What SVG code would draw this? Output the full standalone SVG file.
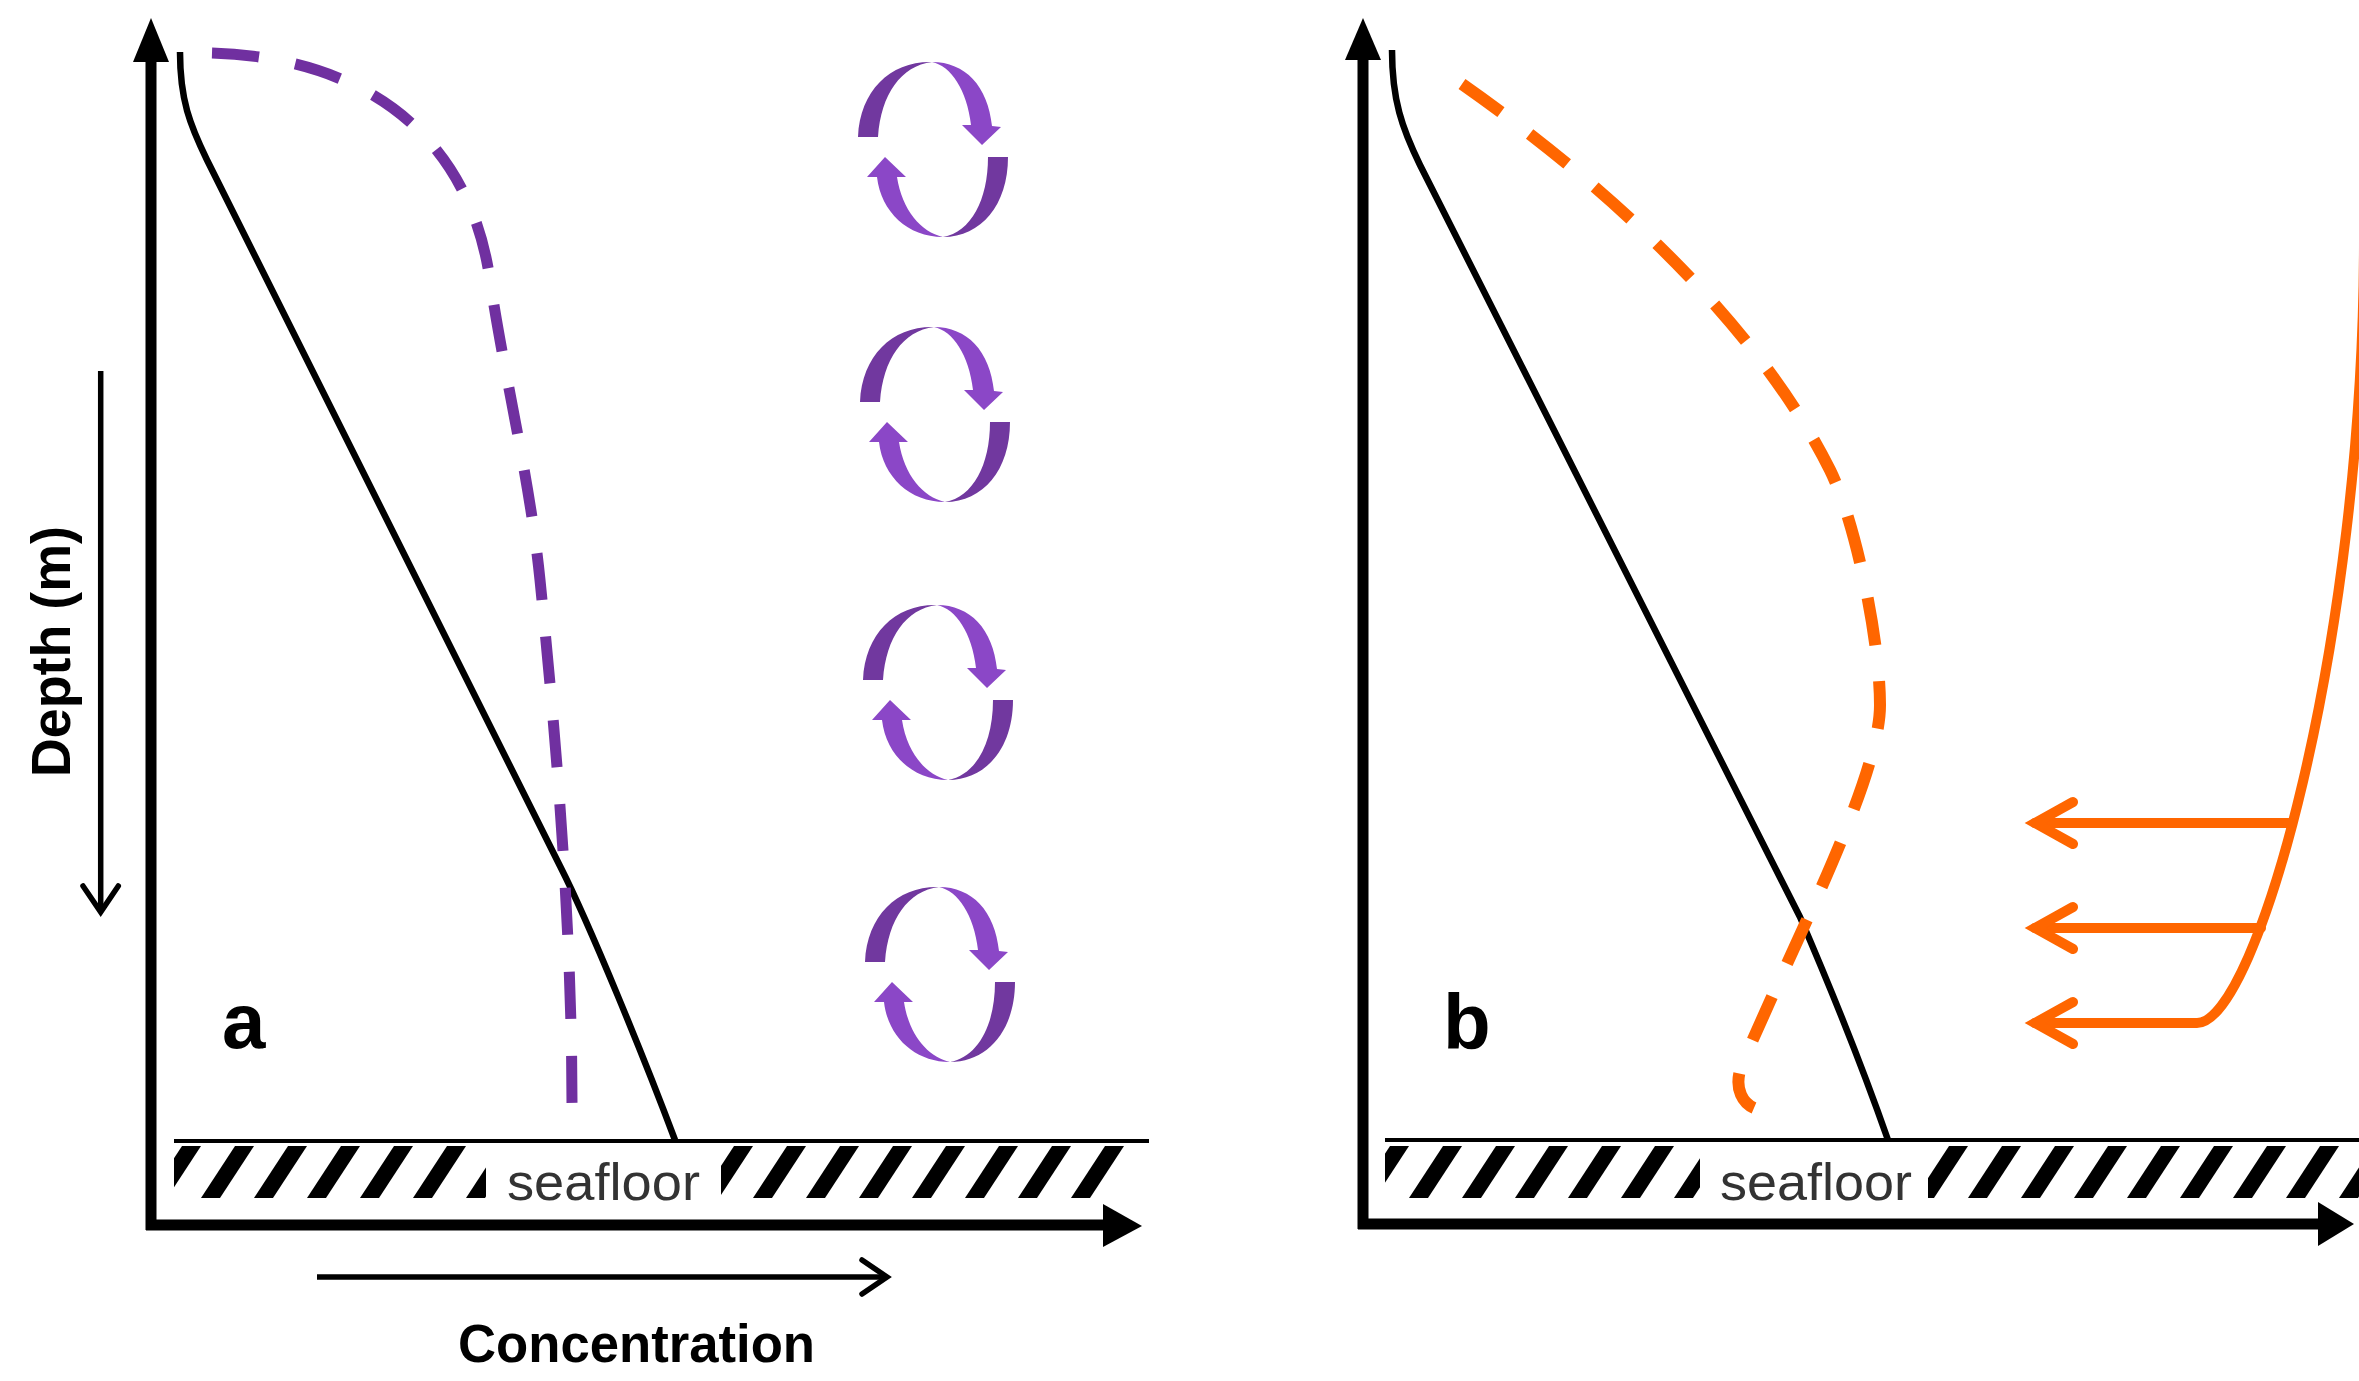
<svg xmlns="http://www.w3.org/2000/svg" xmlns:xlink="http://www.w3.org/1999/xlink" width="2359" height="1381" viewBox="0 0 2359 1381">
<style>
.axis{stroke:#000;stroke-width:11;fill:none}
.head{fill:#000}
.prof{stroke:#000;stroke-width:6.5;fill:none;stroke-linejoin:round;stroke-linecap:butt}
.pdash{stroke:#7030A0;stroke-width:11;fill:none;stroke-dasharray:47 37}
.odash{stroke:#FF6600;stroke-width:12;fill:none;stroke-dasharray:48 36}
.osolid{stroke:#FF6600;stroke-width:10;fill:none;stroke-linecap:round;stroke-linejoin:round}
.ohead{stroke:#FF6600;stroke-width:10;fill:none;stroke-linecap:round;stroke-linejoin:miter}
.floor{stroke:#000;stroke-width:4}
.sea{font-family:"Liberation Sans",Arial,sans-serif;font-size:52px;fill:#333}
.lbl{font-family:"Liberation Sans",Arial,sans-serif;font-weight:bold;fill:#000}
.thin{stroke:#000;stroke-width:5.5;fill:none;stroke-linecap:butt}
.chev{stroke:#000;stroke-width:5.5;fill:none;stroke-linecap:round;stroke-linejoin:miter}
.dk{fill:#71389F}
.lt{fill:#8B47C7}
</style>
<defs>
<pattern id="hatch" patternUnits="userSpaceOnUse" width="53" height="52">
<polygon points="0,52 19,52 53,0 34,0" fill="#000"/>
</pattern>
<g id="circIcon">
<path class="dk" d="M -75,-13 C -73,-60 -42,-89 -1,-88 C -32,-84 -52,-56 -55,-13 Z"/>
<path class="lt" d="M -1,-88 C 32,-88 55,-64 59,-24 L 68,-23 L 49,-5 L 29,-25 L 38,-25 C 34,-60 18,-84 -1,-88 Z"/>
<path class="dk" d="M 55,7 L 75,7 C 75,55 48,87 10,87 C 38,82 55,50 55,7 Z"/>
<path class="lt" d="M 10,87 C -25,87 -52,62 -56,27 L -66,27 L -48,7 L -27,27 L -36,27 C -31,60 -12,82 10,87 Z"/>
</g>
</defs>
<rect width="2359" height="1381" fill="#fff"/>

<g id="panel-a">
  <g id="a-seafloor">
    <line class="floor" x1="174" y1="1141" x2="1149" y2="1141"/>
    <g transform="translate(148,1146)"><rect x="26" y="0" width="312" height="52" fill="url(#hatch)"/></g>
    <g transform="translate(700,1146)"><rect x="21" y="0" width="403" height="52" fill="url(#hatch)"/></g>
    <text class="sea" x="507" y="1200" textLength="193" lengthAdjust="spacingAndGlyphs">seafloor</text>
  </g>
  <g id="a-axes">
    <line class="axis" x1="151" y1="55" x2="151" y2="1230"/>
    <polygon class="head" points="151,18 169,62 133,62"/>
    <line class="axis" x1="146" y1="1225" x2="1106" y2="1225"/>
    <polygon class="head" points="1103,1204 1142,1226 1103,1247"/>
  </g>
  <g id="a-profile">
    <path class="prof" d="M 180,52 C 180,100 190,125 207,160 L 560,866 C 590,925 645,1060 675,1140"/>
  </g>
  <g id="a-dashed">
    <path class="pdash" d="M 212,53 C 370,58 470,140 490,280 C 505,380 530,480 540,580 C 550,680 572,900 572,1105"/>
  </g>
  <g id="a-mixing">
    <use xlink:href="#circIcon" href="#circIcon" transform="translate(933,150)"/>
    <use xlink:href="#circIcon" href="#circIcon" transform="translate(935,415)"/>
    <use xlink:href="#circIcon" href="#circIcon" transform="translate(938,693)"/>
    <use xlink:href="#circIcon" href="#circIcon" transform="translate(940,975)"/>
  </g>
  <text id="label-a" class="lbl" x="222" y="1048" font-size="78">a</text>
</g>

<g id="axis-labels">
  <g id="depth-label">
    <line class="thin" x1="100.7" y1="371" x2="100.7" y2="912"/>
    <polyline class="chev" points="83,886 100.7,912 118.3,886"/>
    <text class="lbl" font-size="56" transform="translate(70,777) rotate(-90)" textLength="251" lengthAdjust="spacingAndGlyphs">Depth (m)</text>
  </g>
  <g id="conc-label">
    <line class="thin" x1="317" y1="1277" x2="887" y2="1277"/>
    <polyline class="chev" points="862,1260 887,1277 862,1294"/>
    <text class="lbl" font-size="54" x="458" y="1362" textLength="357" lengthAdjust="spacingAndGlyphs">Concentration</text>
  </g>
</g>

<g id="panel-b">
  <g id="b-seafloor">
    <line class="floor" x1="1385" y1="1140" x2="2359" y2="1140"/>
    <g transform="translate(1356,1146)"><rect x="29" y="0" width="315" height="52" fill="url(#hatch)"/></g>
    <g transform="translate(1915,1146)"><rect x="13" y="0" width="431" height="52" fill="url(#hatch)"/></g>
    <text class="sea" x="1720" y="1200" textLength="192" lengthAdjust="spacingAndGlyphs">seafloor</text>
  </g>
  <g id="b-axes">
    <line class="axis" x1="1363" y1="55" x2="1363" y2="1229"/>
    <polygon class="head" points="1363,18 1381,60 1345,60"/>
    <line class="axis" x1="1358" y1="1224" x2="2320" y2="1224"/>
    <polygon class="head" points="2318,1202 2354,1224 2318,1246"/>
  </g>
  <g id="b-profile">
    <path class="prof" d="M 1392,50 C 1392,100 1402,128 1420,165 L 1800,917 C 1825,975 1860,1060 1888,1140"/>
  </g>
  <g id="b-dashed">
    <path class="odash" d="M 1462,84 C 1620,195 1760,330 1830,470 C 1855,520 1880,640 1880,705 C 1880,780 1790,950 1742,1065 C 1734,1084 1740,1102 1754,1108"/>
  </g>
  <g id="b-flux">
    <path class="osolid" d="M 2364,240 C 2364,640 2257,1023 2197,1023 L 2035,1023"/>
    <line class="osolid" x1="2292" y1="823" x2="2035" y2="823"/>
    <line class="osolid" x1="2261" y1="928" x2="2035" y2="928"/>
    <polyline class="ohead" points="2073,802 2035,823 2073,844"/>
    <polyline class="ohead" points="2073,907 2035,928 2073,949"/>
    <polyline class="ohead" points="2073,1002 2035,1023 2073,1044"/>
  </g>
  <text id="label-b" class="lbl" x="1443" y="1049" font-size="78">b</text>
</g>
</svg>
